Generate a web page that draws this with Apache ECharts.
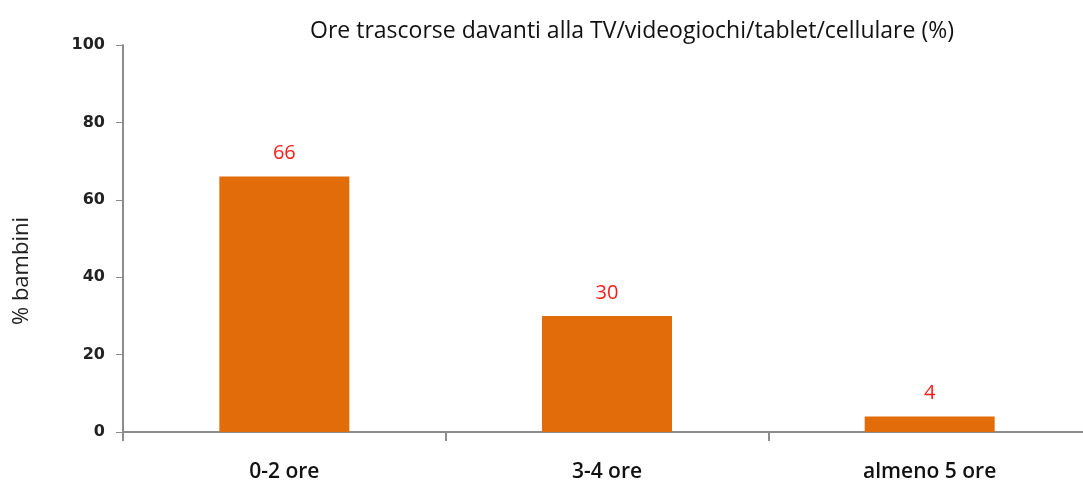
<!DOCTYPE html>
<html><head><meta charset="utf-8">
<script src="https://cdn.jsdelivr.net/npm/echarts@6/dist/echarts.min.js"></script>
<style>html,body{margin:0;padding:0;background:#fff;}#c{width:1083px;height:483px;}</style>
</head><body><div id="c"></div>
<script>
const categories = ["0-2 ore", "3-4 ore", "almeno 5 ore"];
const values = [66, 30, 4];
const yTicks = [0, 20, 40, 60, 80, 100];
const titleText = "Ore trascorse davanti alla TV/videogiochi/tablet/cellulare (%)";
const yName = "% bambini";

const chart = echarts.init(document.getElementById('c'), null, {renderer: 'canvas'});
chart.setOption({
  animation: false,
  backgroundColor: '#ffffff',
  title: {
    text: titleText, left: 627, top: 15, textAlign: 'center',
    textStyle: {fontFamily: 'Open Sans', fontSize: 23, fontWeight: 'normal', color: '#111'}
  },
  graphic: [{
    type: 'text', x: 22, y: 271, rotation: Math.PI / 2,
    style: {text: yName, fontFamily: 'Open Sans', fontSize: 22, fill: '#222', align: 'center', verticalAlign: 'middle'}
  }],
  grid: {left: 123, top: 45, width: 968, height: 387, containLabel: false, outerBoundsMode: 'none'},
  xAxis: {
    type: 'category', data: categories,
    axisLine: {lineStyle: {color: '#8c8c8c', width: 2}},
    axisTick: {show: true, alignWithLabel: false, length: 9, inside: false, lineStyle: {color: '#8c8c8c', width: 2}},
    axisLabel: {margin: 30, fontFamily: 'Open Sans', fontSize: 21, color: '#111', fontWeight: 600}
  },
  yAxis: {
    type: 'value', min: 0, max: 100, interval: 20,
    axisLine: {show: true, lineStyle: {color: '#8c8c8c', width: 2}},
    axisTick: {show: true, length: 7, lineStyle: {color: '#8c8c8c', width: 1}},
    splitLine: {show: false},
    axisLabel: {margin: 18, fontFamily: 'DejaVu Sans', fontSize: 16, fontWeight: 'bold', color: '#222',
      formatter: v => yTicks.includes(v) ? String(v) : ''}
  },
  series: [{
    type: 'bar', data: values, barWidth: 130,
    itemStyle: {color: '#E36C0A'},
    label: {show: true, position: 'top', distance: 13, color: '#ff1a1a', fontFamily: 'Open Sans', fontSize: 20}
  }]
});
</script></body></html>
